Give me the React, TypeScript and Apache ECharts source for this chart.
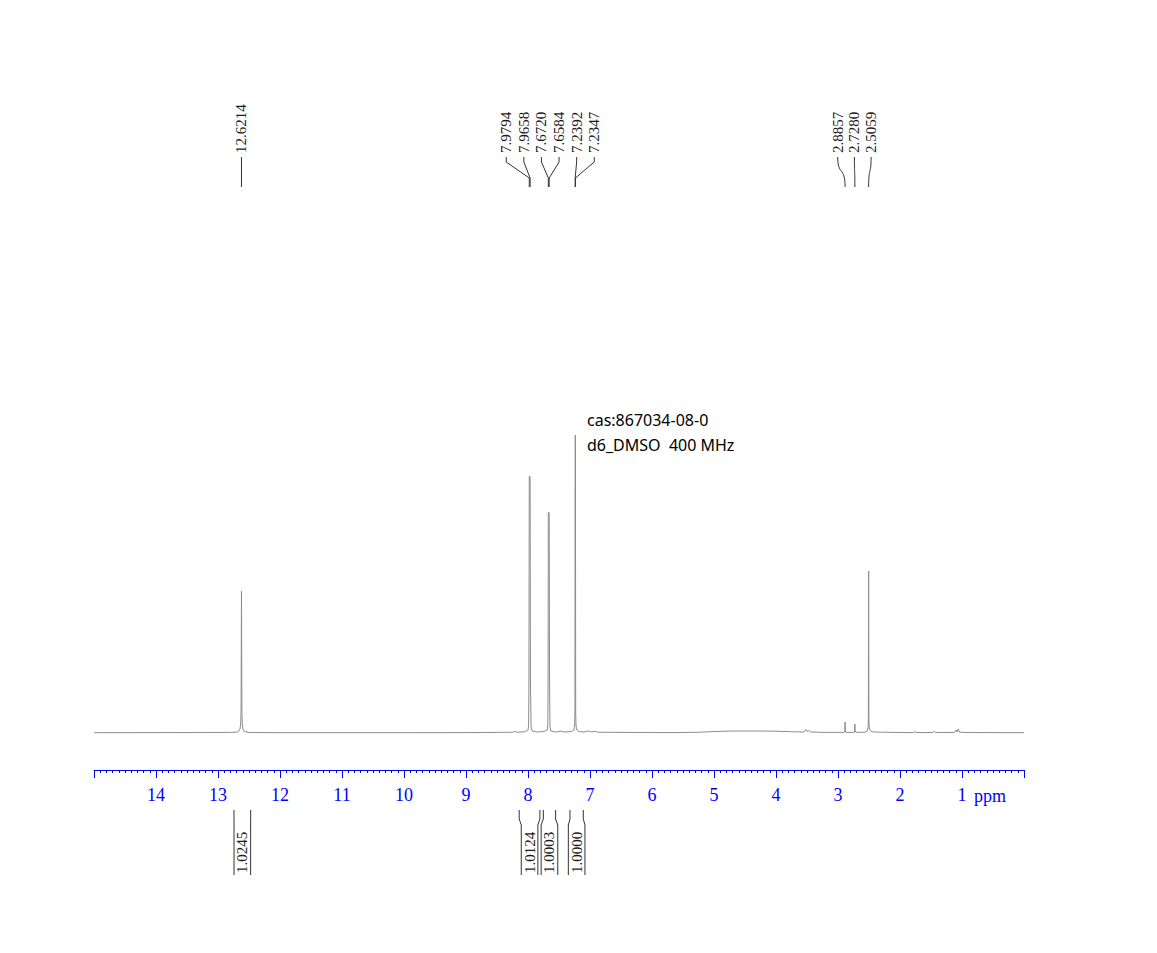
import React, { useEffect, useRef } from "react";
import * as echarts from "echarts";

// x axis (chemical shift, ppm)
const ppmMin = 0;
const ppmMax = 15;
const ppmStep = 1;
const axisUnit = "ppm";

// spectrum: [ppm, intensity]
const spectrum: [number, number][] = [
  [15.0, 0.3], [14.0, 0.4], [13.2, 0.5], [12.8, 0.6], [12.7, 0.8],
  [12.67, 1.5], [12.645, 4], [12.635, 9], [12.628, 22], [12.6214, 142],
  [12.615, 22], [12.608, 9], [12.598, 4], [12.575, 1.5], [12.5, 0.5],
  [12.0, 0.3], [11.0, 0.3], [10.0, 0.3], [9.0, 0.4], [8.5, 0.6], [8.25, 0.8], [8.21, 1.5], [8.18, 0.8],
  [8.05, 1.2], [8.0, 3], [7.99, 8], [7.985, 46], [7.9794, 257], [7.9658, 256], [7.96, 46],
  [7.95, 6], [7.93, 2], [7.85, 1], [7.75, 1.5], [7.69, 3], [7.68, 8], [7.676, 51], [7.672, 221],
  [7.6584, 220], [7.652, 50], [7.645, 6], [7.63, 2], [7.55, 1], [7.47, 1.8], [7.42, 1],
  [7.3, 1.5], [7.26, 3], [7.248, 8], [7.243, 20], [7.2392, 298], [7.2347, 297],
  [7.231, 20], [7.225, 7], [7.21, 3], [7.18, 1.5], [7.1, 1], [7.02, 2], [6.98, 1], [6.92, 1.8],
  [6.88, 0.8], [6.5, 0.6], [6.0, 0.5], [5.5, 0.5], [5.2, 0.8], [5.0, 1.5], [4.7, 2], [4.3, 2],
  [4.0, 1.8], [3.7, 1.2], [3.55, 1], [3.52, 3.5], [3.5, 1.5], [3.47, 2.5], [3.44, 1], [3.2, 0.6],
  [3.0, 0.6], [2.9, 0.6], [2.89, 2], [2.8857, 11], [2.881, 2], [2.87, 0.6], [2.74, 0.6], [2.733, 2],
  [2.728, 9], [2.723, 2], [2.71, 0.6], [2.56, 0.8], [2.53, 2], [2.515, 5], [2.51, 14], [2.5059, 162],
  [2.502, 14], [2.495, 5], [2.48, 2.5], [2.45, 1.2], [2.3, 0.8], [2.0, 0.5], [1.78, 0.5], [1.76, 1.5],
  [1.74, 0.5], [1.47, 0.5], [1.447, 1.5], [1.42, 0.5], [1.12, 0.6], [1.097, 3], [1.08, 1], [1.06, 4],
  [1.04, 0.8], [0.9, 0.5], [0.5, 0.4], [0.0, 0.3],
];

// peak picking labels, grouped
const peakGroupSingle = [12.6214];
const peakGroupAromatic = [7.9794, 7.9658, 7.672, 7.6584, 7.2392, 7.2347];
const peakGroupAliphatic = [2.8857, 2.728, 2.5059];

// integrals: [from ppm, to ppm] and values
const integralRanges: [number, number][] = [
  [12.742, 12.473],
  [8.142, 7.808],
  [7.753, 7.555],
  [7.323, 7.108],
];
const integralValues = [1.0245, 1.0124, 1.0003, 1.0];

// annotation
const noteLines = ["cas:867034-08-0", "d6_DMSO  400 MHz"];

const BLUE = "#0000ff";
const SERIF = '"Liberation Serif", "Times New Roman", serif';

export default function App() {
  const ref = useRef<HTMLDivElement>(null);

  useEffect(() => {
    const chart = echarts.init(ref.current!, null, { renderer: "svg" });
    chart.setOption({
      animation: false,
      backgroundColor: "#ffffff",
      grid: { left: 94, right: 133, top: 413, bottom: 183 },
      xAxis: {
        type: "value",
        min: ppmMin,
        max: ppmMax,
        interval: ppmStep,
        inverse: true,
        axisLine: { show: true, onZero: false, lineStyle: { color: BLUE, width: 1 } },
        axisTick: { show: true, length: 8, lineStyle: { color: BLUE, width: 1 } },
        minorTick: { show: true, splitNumber: 10, length: 3, lineStyle: { color: BLUE, width: 1 } },
        splitLine: { show: false },
        minorSplitLine: { show: false },
        axisLabel: {
          color: BLUE,
          fontFamily: SERIF,
          fontSize: 18,
          margin: 16,
          formatter: (v: number) => (v === ppmMin || v === ppmMax ? "" : String(v)),
        },
      },
      yAxis: { type: "value", min: -37, max: 320, show: false },
      series: [
        {
          type: "line",
          data: spectrum,
          symbol: "none",
          silent: true,
          lineStyle: { color: "#8c8c8c", width: 1 },
        },
      ],
    });

    const px = (v: number) => chart.convertToPixel({ xAxisIndex: 0 }, v) as number;
    const elements: any[] = [];

    const textStyle = (text: string, size: number) => ({
      text,
      font: `${size}px ${SERIF}`,
      fontFamily: SERIF,
      fontSize: size,
      fill: "#1a1a1a",
      textAlign: "left",
      textVerticalAlign: "middle",
      align: "left",
      verticalAlign: "middle",
    });

    const addGroup = (peaks: number[], spacing: number, shift: number, curved: boolean) => {
      const xs = peaks.map(px);
      const mean = xs.reduce((a, b) => a + b, 0) / xs.length;
      xs.forEach((pxv, i) => {
        const lx = peaks.length === 1 ? pxv : mean + shift + (i - (peaks.length - 1) / 2) * spacing;
        elements.push({
          type: "text",
          x: lx,
          y: 153,
          rotation: Math.PI / 2,
          style: textStyle(peaks[i].toFixed(4), 15),
        });
        if (curved) {
          elements.push({
            type: "bezierCurve",
            shape: { x1: lx, y1: 157, cpx1: lx, cpy1: 176, cpx2: pxv, cpy2: 166, x2: pxv, y2: 187 },
            style: { stroke: "#333", lineWidth: 1, fill: "none" },
          });
        } else {
          elements.push({
            type: "polyline",
            shape: { points: [[lx, 157], [lx, 162], [pxv, 178], [pxv, 187]] },
            style: { stroke: "#333", lineWidth: 1, fill: "none" },
          });
        }
      });
    };
    addGroup(peakGroupSingle, 0, 0, false);
    addGroup(peakGroupAromatic, 17.6, -1, false);
    addGroup(peakGroupAliphatic, 16.7, -1.8, true);

    integralRanges.forEach(([a0, b0], i) => {
      const a = px(a0);
      const b = px(b0);
      const c = (a + b) / 2;
      const hw = 8.3;
      elements.push({
        type: "polyline",
        shape: { points: [[a, 810], [a, 819], [c - hw, 825], [c - hw, 875]] },
        style: { stroke: "#333", lineWidth: 1, fill: "none" },
      });
      elements.push({
        type: "polyline",
        shape: { points: [[b, 810], [b, 819], [c + hw, 825], [c + hw, 875]] },
        style: { stroke: "#333", lineWidth: 1, fill: "none" },
      });
      elements.push({
        type: "text",
        x: c,
        y: 873,
        rotation: Math.PI / 2,
        style: textStyle(integralValues[i].toFixed(4), 15),
      });
    });

    elements.push({
      type: "text",
      x: 990,
      y: 796,
      style: {
        text: axisUnit,
        font: `18px ${SERIF}`,
        fill: BLUE,
        textAlign: "center",
        textVerticalAlign: "middle",
        align: "center",
        verticalAlign: "middle",
      },
    });

    noteLines.forEach((t, i) => {
      elements.push({
        type: "text",
        x: 587,
        y: 420 + i * 25,
        style: {
          text: t,
          font: '16px "Noto Sans", sans-serif',
          fill: "#000",
          textAlign: "left",
          textVerticalAlign: "middle",
          align: "left",
          verticalAlign: "middle",
        },
      });
    });

    chart.setOption({ graphic: elements });
    return () => chart.dispose();
  }, []);

  return (
    <div
      ref={ref}
      style={{ position: "absolute", left: 0, top: 0, width: 1157, height: 953 }}
    />
  );
}
